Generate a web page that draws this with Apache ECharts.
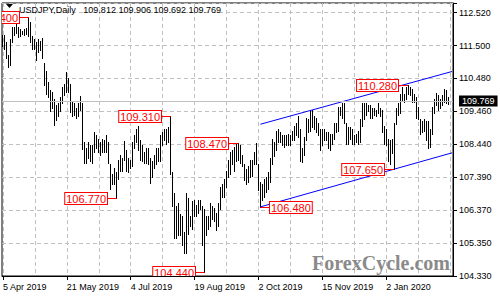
<!DOCTYPE html>
<html><head><meta charset="utf-8">
<script src="https://cdn.jsdelivr.net/npm/echarts@6/dist/echarts.min.js"></script>
<style>html,body{margin:0;padding:0;background:#fff}#c{width:500px;height:300px}</style>
</head><body><div id="c"></div>
<script>
const headerText = 'USDJPY,Daily   109.812 109.906 109.692 109.769';
const startDate = '2019-04-05';
const holidays = ['2019-12-25', '2020-01-01'];
const xTickLabels = ['5 Apr 2019', '21 May 2019', '4 Jul 2019', '19 Aug 2019', '2 Oct 2019', '15 Nov 2019', '2 Jan 2020'];
const yTickLabels = ['104.330', '105.350', '106.370', '107.390', '108.440', '109.460', '110.480', '111.500', '112.520'];
const yMin = 104.33, yMax = 112.82, yStep = 1.02375;
const currentPrice = 109.769;

const highs = [
111.83,111.81,111.60,111.20,111.70,112.08,112.08,112.17,112.08,112.00,111.95,112.00,112.04,112.40,112.22,111.80,111.70,111.60,111.70,111.65,
111.72,110.95,110.70,110.35,110.10,110.05,109.85,109.65,109.70,109.90,110.20,110.30,110.67,110.50,110.30,109.75,109.70,109.55,109.70,109.92,
109.70,108.50,108.30,108.50,108.40,108.40,108.80,108.70,108.60,108.50,108.60,108.55,108.70,108.50,107.80,107.50,107.70,107.55,107.95,108.10,
108.00,108.53,108.25,108.00,107.95,108.50,108.72,108.90,108.99,108.55,108.40,108.20,108.30,108.30,108.00,107.90,108.10,108.30,108.30,108.70,
108.80,108.90,108.90,108.95,109.31,107.55,106.90,106.50,106.60,106.25,106.20,105.70,106.90,106.75,106.20,106.65,106.70,106.55,106.70,106.70,
106.50,106.40,106.20,106.20,106.60,106.50,106.45,106.30,106.60,107.10,107.20,107.35,107.60,107.95,108.20,108.25,108.35,108.45,108.47,108.40,
108.10,107.80,107.65,107.75,107.95,107.95,108.20,108.47,107.80,107.25,107.20,107.35,107.40,107.55,108.00,108.60,108.50,108.85,108.90,108.80,
108.70,108.70,108.70,108.75,108.70,108.85,109.00,109.10,109.30,108.90,108.30,108.65,109.25,109.20,109.48,109.50,109.30,109.25,109.10,108.90,
108.90,108.90,108.80,108.80,108.75,108.75,109.10,109.10,109.60,109.60,109.70,109.72,109.10,108.95,108.95,108.90,108.70,108.75,108.85,109.20,
109.70,109.70,109.70,109.65,109.65,109.55,109.55,109.50,109.70,109.55,109.50,109.00,108.90,108.60,108.55,108.60,109.10,109.55,109.70,110.00,
110.20,110.00,110.20,110.28,110.20,110.15,110.00,109.90,109.60,109.20,109.15,109.20,109.15,109.15,108.90,109.60,109.85,110.02,109.95,109.85,
109.95,110.14,110.10,109.906
];
const lows = [
111.47,111.38,111.10,110.84,110.90,111.60,111.83,111.90,111.75,111.80,111.86,111.82,111.86,111.80,111.60,111.40,111.40,111.05,111.30,111.35,
111.10,110.28,110.00,109.90,109.47,109.55,109.02,109.17,109.30,109.45,109.70,109.95,110.05,110.05,109.43,109.30,109.35,109.25,109.30,109.50,
108.28,107.85,107.85,108.00,107.90,107.85,108.20,108.30,108.20,108.10,108.20,108.20,108.20,107.85,107.05,107.20,107.20,106.77,107.35,107.60,
107.60,107.95,107.60,107.55,107.70,107.75,108.30,108.50,108.25,107.95,107.90,107.85,107.85,107.80,107.21,107.40,107.70,107.80,107.90,107.90,
108.40,108.55,108.45,108.50,107.50,106.50,105.52,105.50,105.60,105.60,105.30,105.05,105.05,105.65,105.90,105.80,106.20,106.20,106.30,106.40,
105.30,104.44,105.60,105.80,105.90,106.10,106.05,105.75,105.90,106.40,106.80,106.80,107.10,107.40,107.50,107.80,107.60,107.90,107.95,107.85,
107.75,107.30,107.20,107.25,107.40,107.45,107.80,107.80,107.00,106.48,106.70,106.80,106.95,107.05,107.25,107.80,108.05,108.25,108.50,108.50,
108.40,108.35,108.40,108.40,108.40,108.55,108.55,108.70,108.65,107.90,107.88,108.10,108.55,108.80,108.85,108.95,108.90,108.80,108.70,108.25,
108.40,108.55,108.55,108.30,108.25,108.45,108.60,108.80,108.85,109.35,109.25,109.10,108.45,108.45,108.60,108.45,108.45,108.50,108.45,108.50,
109.00,109.20,109.35,109.45,109.25,109.25,109.35,109.30,109.40,109.30,108.80,108.45,108.40,107.90,107.80,108.15,107.65,109.05,109.35,109.40,
109.80,109.75,109.85,110.00,109.95,109.75,109.75,109.25,109.20,108.75,108.80,108.85,108.55,108.31,108.35,108.75,109.40,109.65,109.50,109.55,
109.65,109.75,109.70,109.692
];

const priceLabels = [
  { i: 13, p: 112.40, side: -1, text: '112.400' },
  { i: 57, p: 106.77, side: -1, text: '106.770' },
  { i: 84, p: 109.31, side: -1, text: '109.310' },
  { i: 101, p: 104.44, side: -1, text: '104.440' },
  { i: 118, p: 108.47, side: -1, text: '108.470' },
  { i: 129, p: 106.48, side: 1, text: '106.480' },
  { i: 196, p: 107.65, side: -1, text: '107.650' },
  { i: 203, p: 110.28, side: -1, text: '110.280' }
];
const channelUpper = [[129, 109.05], [225, 110.69]];
const channelLower = [[129, 106.48], [225, 108.16]];

const MONTHS = ['Jan','Feb','Mar','Apr','May','Jun','Jul','Aug','Sep','Oct','Nov','Dec'];
const categories = [];
(function () {
  let d = new Date(startDate + 'T00:00:00Z');
  while (categories.length < highs.length) {
    const wd = d.getUTCDay();
    const iso = d.toISOString().slice(0, 10);
    if (wd !== 0 && wd !== 6 && holidays.indexOf(iso) < 0) {
      categories.push(d.getUTCDate() + ' ' + MONTHS[d.getUTCMonth()] + ' ' + d.getUTCFullYear());
    }
    d = new Date(d.getTime() + 86400000);
  }
  categories.push('', '');
})();

const FONT = '"Liberation Sans", Arial, sans-serif';
const chart = echarts.init(document.getElementById('c'), null, { renderer: 'svg' });
const barData = highs.map((h, i) => [i, h, lows[i]]);

chart.setOption({
  animation: false,
  backgroundColor: '#fff',
  grid: { left: 2, right: 47, top: 3, bottom: 24, show: true, borderColor: '#000', borderWidth: 1, outerBoundsMode: 'none', containLabel: false },
  xAxis: {
    type: 'category', data: categories, boundaryGap: true,
    axisLine: { show: true, lineStyle: { color: '#000', width: 1 } },
    axisTick: { show: true, alignWithLabel: true, length: 4, lineStyle: { color: '#000' },
      interval: (idx, val) => xTickLabels.indexOf(val) >= 0 },
    axisLabel: { show: true, align: 'left', margin: 6, fontSize: 9, fontFamily: FONT, color: '#000',
      interval: (idx, val) => xTickLabels.indexOf(val) >= 0, hideOverlap: false },
    splitLine: { show: true, interval: 15, alignWithLabel: true, lineStyle: { color: '#c0c0c0', type: [4, 3], width: 1 } }
  },
  yAxis: {
    type: 'value', position: 'right', min: yMin, max: yMax, interval: yStep,
    axisLine: { show: true, lineStyle: { color: '#000' } },
    axisTick: { show: true, length: 4, lineStyle: { color: '#000' } },
    axisLabel: { margin: 6, fontSize: 9, fontFamily: FONT, color: '#000', showMaxLabel: true,
      formatter: v => {
        const k = Math.round((v - yMin) / yStep);
        if (Math.abs(v - (yMin + k * yStep)) > 1e-6) return '';
        return yTickLabels[k] || '';
      } },
    splitLine: { show: true, lineStyle: { color: '#c0c0c0', type: [4, 3], width: 1 } }
  },
  graphic: [
    { type: 'polygon', shape: { points: [[6, 4], [13, 4], [9.5, 8]] }, style: { fill: '#000' }, z: 100 },
    { type: 'text', left: 19, top: 5, z: 100, style: { text: headerText, font: '9px ' + FONT, fill: '#000' } },
    { type: 'text', right: 50, top: 253, z: 1, style: { text: 'ForexCycle.com', font: 'bold 20px "Liberation Serif", "Times New Roman", serif', fill: '#8a8a8a' } }
  ],
  series: [
    {
      type: 'custom', name: 'bars', data: barData, z: 3,
      encode: { x: 0, y: [1, 2] },
      renderItem: (params, api) => {
        const i = api.value(0);
        const top = api.coord([i, api.value(1)]);
        const bot = api.coord([i, api.value(2)]);
        const x = Math.floor(top[0]) + 0.5;
        return { type: 'line', shape: { x1: x, y1: Math.round(top[1]), x2: x, y2: Math.round(bot[1]) + 1 },
          style: { stroke: '#000', lineWidth: 1 } };
      },
      markLine: {
        silent: true, symbol: 'none', animation: false,
        lineStyle: { color: '#c0c0c0', type: 'solid', width: 1 },
        label: { show: true, position: 'end', distance: 6, formatter: currentPrice.toFixed(3),
          backgroundColor: '#000', color: '#fff', fontSize: 9, fontFamily: FONT, padding: [1, 3, 0, 3], lineHeight: 10 },
        data: [{ yAxis: currentPrice }]
      }
    },
    { type: 'line', data: channelUpper, symbol: 'none', z: 4, lineStyle: { color: '#0000ff', width: 1 } },
    { type: 'line', data: channelLower, symbol: 'none', z: 4, lineStyle: { color: '#0000ff', width: 1 } },
    {
      type: 'custom', name: 'labels', data: priceLabels.map(l => [l.i, l.p]), z: 5, clip: true,
      renderItem: (params, api) => {
        const L = priceLabels[params.dataIndex];
        const a = api.coord([L.i, L.p]);
        const b = api.coord([L.i + L.side * 5, L.p]);
        const y = Math.round(a[1]) + 0.5;
        return { type: 'group', children: [
          { type: 'line', shape: { x1: a[0], y1: y, x2: b[0], y2: y }, style: { stroke: '#ff0000', lineWidth: 1 } },
          { type: 'text', x: Math.round(b[0]), y: y,
            style: { text: L.text, fill: '#ff0000', fontSize: 11, fontFamily: FONT,
              align: L.side < 0 ? 'right' : 'left', verticalAlign: 'middle',
              backgroundColor: '#fff', borderColor: '#ff0000', borderWidth: 1,
              padding: [1, 1, 0, 1], lineHeight: 10 } }
        ] };
      }
    }
  ]
});
</script></body></html>
